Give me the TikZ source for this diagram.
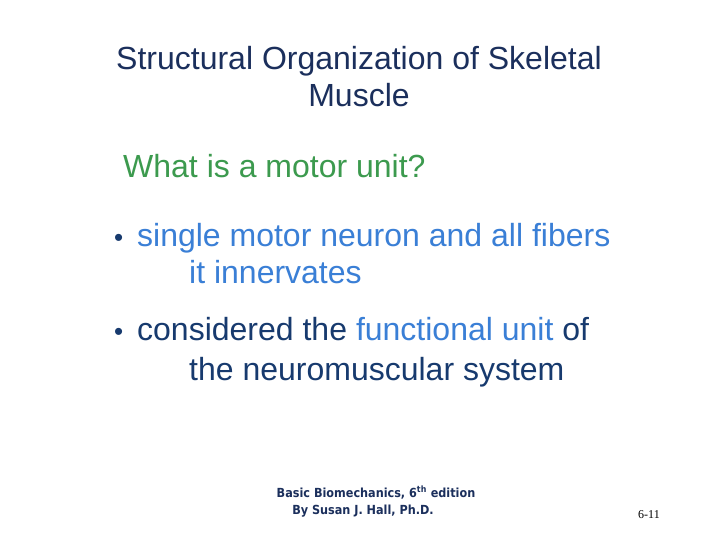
\documentclass[tikz,border=0pt]{standalone}
\usepackage{fontspec}
\setmainfont{Liberation Sans}
\newfontfamily\footfont{DejaVu Sans Condensed}
\newfontfamily\numfont{Liberation Serif}
\definecolor{navy}{HTML}{1B2F5C}
\definecolor{dnavy}{HTML}{173A6E}
\definecolor{lblue}{HTML}{3A7FD6}
\definecolor{sgreen}{HTML}{3C9A4E}
\begin{document}
\begin{tikzpicture}[x=1pt,y=-1pt,
  txt/.style={anchor=base west,inner sep=0pt,font=\fontsize{32}{36}\selectfont}]
\useasboundingbox (0,0) rectangle (720,540);
\fill[white] (0,0) rectangle (720,540);
\node[anchor=base,inner sep=0pt,font=\fontsize{32}{36}\selectfont,text=navy] (t1) at (359,70) {Structural Organization of Skeletal};
\node[anchor=base,inner sep=0pt,font=\fontsize{32}{36}\selectfont,text=navy] (t2) at (359,107) {Muscle};
\node[txt,text=sgreen] (q) at (123,178) {What is a motor unit?};
\node[txt,text=dnavy,font=\fontsize{26}{30}\selectfont] (b1) at (114,246) {\textbullet};
\node[txt,text=lblue] (l1) at (137,246) {single motor neuron and all fibers};
\node[txt,text=lblue] (l2) at (189,283) {it innervates};
\node[txt,text=dnavy,font=\fontsize{26}{30}\selectfont] (b2) at (114,340) {\textbullet};
\node[txt,text=dnavy] (l3) at (137,340) {considered the \textcolor{lblue}{functional unit} of};
\node[txt,text=dnavy] (l4) at (189,380) {the neuromuscular system};
\node[anchor=base,inner sep=0pt,font=\footfont\bfseries\fontsize{12.5}{14}\selectfont,text=navy] (f1) at (376,497) {Basic Biomechanics, 6\textsuperscript{th} edition};
\node[anchor=base,inner sep=0pt,font=\footfont\bfseries\fontsize{12.5}{14}\selectfont,text=navy] (f2) at (363,514) {By Susan J. Hall, Ph.D.};
\node[anchor=base,inner sep=0pt,font=\numfont\fontsize{12}{14}\selectfont] (pg) at (649,518) {6-11};
\end{tikzpicture}
\end{document}
